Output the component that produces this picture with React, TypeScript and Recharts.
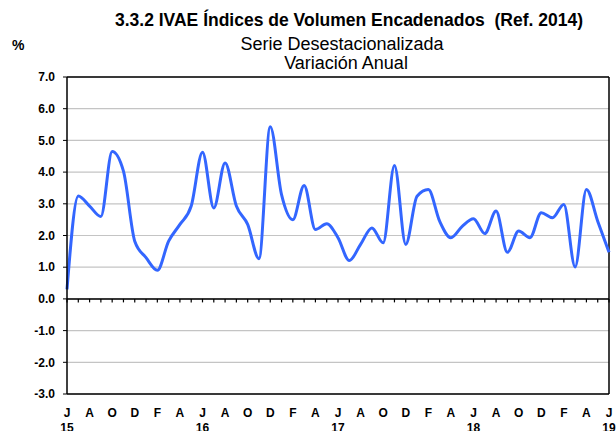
import { LineChart, Line, XAxis, YAxis, CartesianGrid, ReferenceLine } from 'recharts';

// Jun 2015 – Jun 2019, monthly
const periods = [
  'jun-15', 'jul-15', 'ago-15', 'sep-15', 'oct-15', 'nov-15', 'dic-15',
  'ene-16', 'feb-16', 'mar-16', 'abr-16', 'may-16', 'jun-16', 'jul-16', 'ago-16', 'sep-16', 'oct-16', 'nov-16', 'dic-16',
  'ene-17', 'feb-17', 'mar-17', 'abr-17', 'may-17', 'jun-17', 'jul-17', 'ago-17', 'sep-17', 'oct-17', 'nov-17', 'dic-17',
  'ene-18', 'feb-18', 'mar-18', 'abr-18', 'may-18', 'jun-18', 'jul-18', 'ago-18', 'sep-18', 'oct-18', 'nov-18', 'dic-18',
  'ene-19', 'feb-19', 'mar-19', 'abr-19', 'may-19', 'jun-19',
];

// Variación anual (%)
const ivae = [
  0.3, 3.25, 2.93, 2.6, 4.65, 4.03, 1.82,
  1.3, 0.9, 1.82, 2.35, 2.93, 4.63, 2.87, 4.29, 2.93, 2.35, 1.27, 5.43,
  3.29, 2.5, 3.58, 2.19, 2.37, 1.93, 1.21, 1.72, 2.24, 1.77, 4.21, 1.72,
  3.24, 3.45, 2.45, 1.93, 2.29, 2.53, 2.06, 2.77, 1.47, 2.14, 1.93, 2.72,
  2.56, 2.98, 1.01, 3.45, 2.45, 1.47,
];

const yTicks = [-3, -2, -1, 0, 1, 2, 3, 4, 5, 6, 7];

const data = periods.map((p, i) => ({ period: p, value: ivae[i] }));
const xTicks = periods.filter((_, i) => i % 2 === 0);

const FONT = '"Liberation Sans", Arial, sans-serif';

function MonthTick(props: any) {
  const { x, y, payload } = props;
  const p: string = payload.value;
  const [mon, yr] = p.split('-');
  return (
    <g>
      <text x={x} y={y + 15} textAnchor="middle" fontSize={12} fontWeight="bold" fontFamily={FONT} fill="#000">
        {mon.charAt(0).toUpperCase()}
      </text>
      {mon === 'jun' && (
        <text x={x} y={y + 30} textAnchor="middle" fontSize={12} fontWeight="bold" fontFamily={FONT} fill="#000">
          {yr}
        </text>
      )}
    </g>
  );
}

const titleBox = { position: 'absolute' as const, left: 0, textAlign: 'center' as const, fontSize: 18, lineHeight: '18px', whiteSpace: 'nowrap' as const };

export default function App() {
  return (
    <div style={{ position: 'absolute', left: 0, top: 0, width: 616, height: 431, background: '#fff', fontFamily: FONT, overflow: 'hidden' }}>
      <div style={{ ...titleBox, width: 698, top: 11, fontSize: 17.5, fontWeight: 'bold' }}>
        3.3.2 IVAE Índices de Volumen Encadenados&nbsp; (Ref. 2014)
      </div>
      <div style={{ ...titleBox, width: 684, top: 35 }}>
        Serie Desestacionalizada
      </div>
      <div style={{ ...titleBox, width: 692, top: 54 }}>
        Variación Anual
      </div>
      <div style={{ position: 'absolute', left: 12, top: 37, fontSize: 14, fontWeight: 'bold' }}>%</div>

      <LineChart
        width={616}
        height={431}
        data={data}
        margin={{ top: 77, right: 7, bottom: 0, left: 0 }}
        style={{ position: 'absolute', left: 0, top: 0 }}
      >
        <CartesianGrid horizontal vertical={false} stroke="#c4c4c4" strokeWidth={1.2} />
        <XAxis
          dataKey="period"
          ticks={xTicks}
          interval={0}
          height={37}
          tick={<MonthTick />}
          tickLine={false}
          axisLine={{ stroke: '#000', strokeWidth: 1.5 }}
        />
        <YAxis
          width={67}
          domain={[-3, 7]}
          ticks={yTicks}
          interval={0}
          tickFormatter={(v: number) => v.toFixed(1)}
          tick={{ fontSize: 12, fontWeight: 'bold', fill: '#000', fontFamily: FONT }}
          tickSize={4}
          tickMargin={8}
          tickLine={{ stroke: '#000' }}
          axisLine={{ stroke: '#000', strokeWidth: 1.5 }}
        />
        <ReferenceLine y={7} stroke="#000" strokeWidth={1.5} />
        <ReferenceLine x={periods[periods.length - 1]} stroke="#000" strokeWidth={1.5} />
        <ReferenceLine y={0} stroke="#000" strokeWidth={1.5} />
        {periods.map((p) => (
          <ReferenceLine
            key={p}
            segment={[{ x: p, y: 0 }, { x: p, y: -0.11 }]}
            stroke="#000"
            strokeWidth={1.2}
          />
        ))}
        <Line
          type="monotone"
          dataKey="value"
          stroke="#3366ff"
          strokeWidth={3}
          dot={false}
          isAnimationActive={false}
        />
      </LineChart>
    </div>
  );
}
